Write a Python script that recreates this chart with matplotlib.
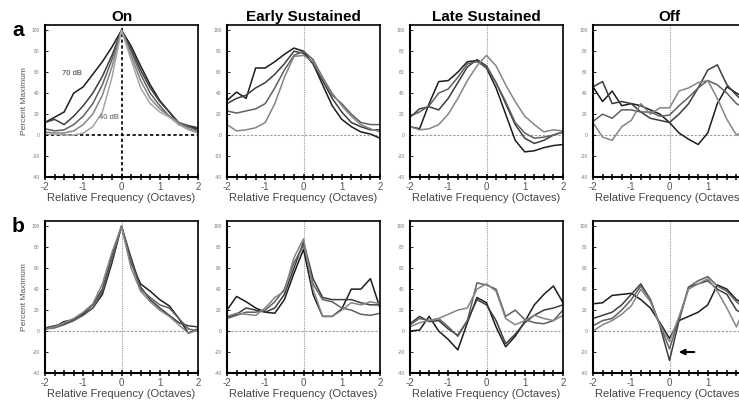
import numpy as np
import matplotlib
matplotlib.use('Agg')
import matplotlib.pyplot as plt

plt.rcParams['font.family'] = ['Liberation Sans', 'DejaVu Sans']

# octave grid shared by all curves
octaves = [-2, -1.75, -1.5, -1.25, -1, -0.75, -0.5, -0.25, 0,
           0.25, 0.5, 0.75, 1, 1.25, 1.5, 1.75, 2]

titles = ['On', 'Early Sustained', 'Late Sustained', 'Off']
row_labels = ['a', 'b']

# row a : level series (70 dB .. 40 dB)
on_a = [
    [12, 17, 22, 40, 46, 58, 70, 84, 100, 85, 66, 48, 33, 22, 10, 8, 6],
    [12, 15, 10, 18, 28, 40, 56, 76, 100, 82, 62, 45, 32, 22, 12, 9, 7],
    [6, 4, 5, 10, 18, 30, 48, 72, 100, 80, 58, 40, 28, 18, 12, 8, 4],
    [3, 2, 2, 4, 10, 20, 38, 65, 100, 76, 52, 35, 25, 18, 12, 6, 3],
    [1, 1, 0, 0, 2, 8, 22, 55, 100, 72, 45, 30, 22, 17, 10, 5, 2],
]
early_a = [
    [33, 41, 35, 64, 64, 70, 77, 83, 80, 68, 48, 28, 15, 8, 3, 1, -3],
    [30, 35, 38, 45, 50, 58, 68, 80, 78, 68, 52, 35, 22, 12, 8, 5, 5],
    [23, 21, 23, 25, 30, 45, 62, 76, 80, 72, 55, 38, 30, 20, 12, 10, 10],
    [10, 4, 5, 7, 12, 30, 55, 75, 76, 70, 55, 40, 28, 18, 10, 6, 3],
]
late_a = [
    [8, 6, 30, 51, 52, 60, 70, 71, 64, 45, 20, -5, -16, -15, -12, -10, -9],
    [17, 25, 27, 24, 35, 50, 65, 72, 66, 50, 30, 10, -3, -8, -5, 0, 3],
    [18, 22, 28, 40, 44, 55, 68, 70, 65, 50, 32, 12, 2, -3, -2, 0, 3],
    [8, 5, 6, 10, 20, 35, 52, 66, 76, 66, 48, 32, 18, 10, 3, 5, 4],
]
off_a = [
    [46, 32, 42, 28, 30, 28, 24, 20, 12, 2, -4, -9, 2, 30, 46, 40, 35],
    [46, 51, 30, 32, 30, 22, 16, 14, 12, 20, 30, 45, 62, 67, 48, 38, 30],
    [13, 20, 16, 24, 24, 22, 22, 18, 19, 28, 36, 45, 52, 48, 40, 30, 25],
    [12, -2, -5, 8, 14, 30, 20, 26, 26, 42, 45, 50, 52, 35, 15, 0, 5],
]

# row b
on_b = [
    [2, 4, 9, 11, 16, 22, 35, 65, 100, 65, 45, 38, 30, 24, 12, -2, 2],
    [3, 5, 7, 10, 17, 25, 40, 72, 100, 70, 42, 30, 22, 15, 8, 5, 4],
    [2, 3, 6, 10, 15, 22, 38, 68, 100, 66, 40, 32, 25, 22, 12, 2, 0],
    [2, 4, 8, 12, 18, 26, 45, 75, 100, 60, 38, 28, 20, 14, 6, -2, 1],
]
early_b = [
    [20, 33, 28, 22, 18, 17, 30, 55, 78, 35, 14, 14, 21, 40, 40, 50, 22],
    [13, 16, 22, 20, 18, 22, 35, 60, 85, 50, 32, 30, 30, 30, 27, 25, 25],
    [12, 15, 18, 18, 20, 28, 40, 65, 82, 45, 30, 28, 22, 20, 16, 15, 17],
    [14, 17, 16, 15, 22, 32, 38, 70, 88, 40, 14, 14, 20, 27, 25, 28, 26],
]
late_b = [
    [0, 1, 14, 0, -8, -18, 8, 32, 27, 4, -15, -5, 9, 25, 35, 43, 27],
    [7, 14, 9, 10, 2, -4, 10, 30, 25, 10, -12, -3, 8, 15, 20, 22, 25],
    [6, 12, 10, 12, 4, -5, 10, 46, 44, 40, 14, 20, 11, 8, 7, 10, 20],
    [4, 8, 10, 12, 16, 20, 22, 40, 45, 38, 12, 6, 10, 15, 12, 10, 15],
]
off_b = [
    [26, 27, 34, 35, 36, 30, 22, 8, -7, 10, 14, 18, 25, 44, 40, 30, 25],
    [12, 15, 18, 25, 35, 45, 30, 5, -28, 10, 42, 45, 48, 40, 35, 20, 15],
    [5, 10, 12, 20, 30, 43, 30, 6, -17, 12, 42, 48, 52, 43, 38, 28, 20],
    [0, 6, 10, 16, 24, 40, 28, 6, -10, 14, 40, 45, 50, 38, 22, 4, 25],
]

rows = [[on_a, early_a, late_a, off_a], [on_b, early_b, late_b, off_b]]

y_ticks = [-40, -20, 0, 20, 40, 60, 80, 100]
x_ticks = [-2, -1, 0, 1, 2]

grises = ['#1c1c1c', '#3d3d3d', '#606060', '#858585', '#a5a5a5']

W, H = 739, 405
fig = plt.figure(figsize=(W / 100, H / 100), dpi=100)

col_left = [45, 227, 410, 593]
row_top = [25, 221]
aw, ah = 153, 152

for r in range(2):
    for c in range(4):
        ax = fig.add_axes([col_left[c] / W, 1 - (row_top[r] + ah) / H, aw / W, ah / H])
        for i, serie in enumerate(rows[r][c]):
            ax.plot(octaves, serie, color=grises[i], lw=1.1)

        # lineas de referencia
        if r == 0 and c == 0:
            ax.axhline(0, color='k', ls=(0, (2, 1.5)), lw=1.2, zorder=0)
            ax.axvline(0, color='k', ls=(0, (2, 1.5)), lw=1.2, zorder=0)
        else:
            ax.axhline(0, color='#999999', ls=(0, (2, 1.5)), lw=0.8, zorder=0)
            ax.axvline(0, color='#999999', ls=(0, (1, 1)), lw=0.8, zorder=0)

        ax.set_xlim(-2, 2)
        ax.set_ylim(-40, 105)
        ax.set_xticks(x_ticks)
        ax.set_xticklabels([str(t) for t in x_ticks])
        ax.set_xticks(np.array(octaves), minor=True)
        ax.set_yticks(y_ticks)
        ax.set_yticklabels([str(t) for t in y_ticks])
        ax.tick_params(axis='x', which='both', direction='inout', length=5, width=1.1,
                       labelsize=7, labelcolor='#555555', pad=1)
        ax.tick_params(axis='y', direction='in', length=2, width=0.6,
                       labelsize=3.5, labelcolor='#777777', pad=4)
        for s in ['left', 'bottom']:
            ax.spines[s].set_linewidth(1.5)
        for s in ['top', 'right']:
            ax.spines[s].set_linewidth(1.2)
        ax.set_xlabel('Relative Frequency (Octaves)', fontsize=8, color='#444444', labelpad=1)

        if r == 0:
            ax.set_title(titles[c], fontsize=11, fontweight='bold', pad=3)
        if c == 0:
            ax.set_ylabel('Percent Maximum', fontsize=6, color='#555555', labelpad=2)

        if r == 0 and c == 0:
            ax.text(-1.55, 57, '70 dB', fontsize=5.5, color='#333333')
            ax.text(-0.6, 15, '40 dB', fontsize=5.5, color='#555555')
        if r == 1 and c == 3:
            ax.annotate('', xy=(0.17, -20), xytext=(0.72, -20),
                        arrowprops=dict(arrowstyle='-|>', color='k', lw=1.5,
                                        mutation_scale=8))

    fig.text(12 / W, 1 - (row_top[r] + 6) / H, row_labels[r], fontsize=15,
             fontweight='bold', va='center')

fig.savefig('out.png', dpi=100)
